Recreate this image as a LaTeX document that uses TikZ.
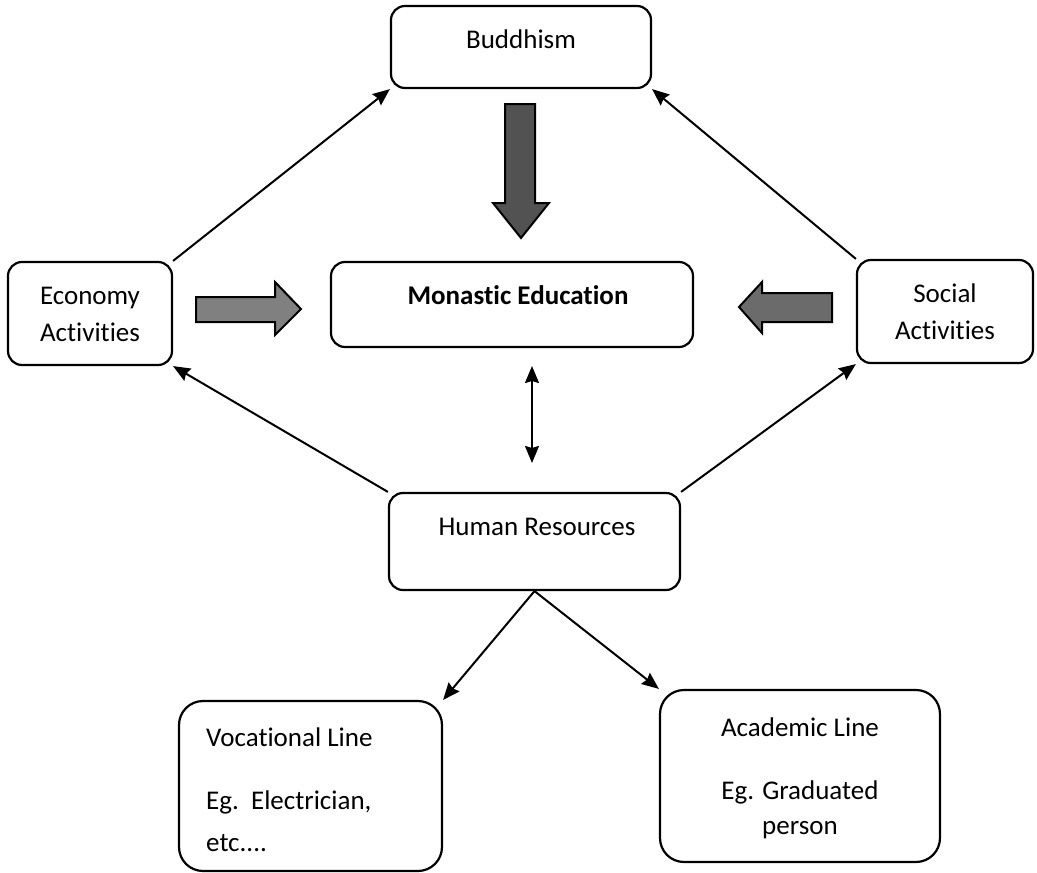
\documentclass[tikz,border=0pt]{standalone}
\usepackage{fontspec}
\setmainfont{Carlito}[Ligatures=NoCommon]
\usetikzlibrary{arrows.meta,fit}
\begin{document}
\begin{tikzpicture}[x=1pt,y=-1pt,
  box/.style={draw, line width=2.2pt, rounded corners=#1, inner sep=0pt},
  box/.default=14pt,
  txt/.style={inner sep=0pt, font=\fontsize{27}{37}\selectfont, align=center},
  tip/.tip={Stealth[length=17pt,width=14pt,inset=2pt]},
  arr/.style={line width=2pt, -tip},
  fat/.style={draw, line width=2pt, line join=miter}]
\useasboundingbox (0,0) rectangle (1037,873);
% boxes
\node[box, fit={(391,6) (651,88)}] (bud) {};
\node[box, fit={(8,262) (172,365)}] (eco) {};
\node[box, fit={(331,262) (693,347)}] (mon) {};
\node[box, fit={(857,260) (1033,363)}] (soc) {};
\node[box, fit={(389,493) (680,590)}] (hr) {};
\node[box=24pt, fit={(179,701) (442,871)}] (voc) {};
\node[box=24pt, fit={(660,690) (940,862)}] (aca) {};
% texts
\node[txt] (tbud) at (521,39) {Buddhism};
\node[txt] (teco) at (90,314) {Economy\\Activities};
\node[txt, font=\fontsize{27}{37}\selectfont\bfseries] (tmon) at (518,295) {Monastic Education};
\node[txt] (tsoc) at (945,312) {Social\\Activities};
\node[txt] (thr) at (537,527) {Human Resources};
\node[txt, anchor=west] (tv1) at (206,737) {Vocational Line};
\node[txt, anchor=west] (tv2) at (206,802) {Eg.\ \ Electrician,};
\node[txt, anchor=west] (tv3) at (206,843) {etc....};
\node[txt] (ta1) at (800,727) {Academic Line};
\node[txt] (ta2) at (800,792) {Eg. Graduated};
\node[txt] (ta3) at (800,830) {person};
% thin arrows
\draw[arr] (eco.north east) -- (bud.south west);
\draw[arr] (soc.north west) -- (bud.south east);
\draw[arr] (hr.north west) -- (eco.south east);
\draw[arr] (hr.north east) -- (soc.south west);
\coordinate (d1) at (532,366);
\coordinate (d2) at (532,463);
\draw[arr, tip-tip] (d1) -- (d2);
\draw[arr] (hr.south) -- (voc.north east);
\draw[arr] (hr.south) -- (aca.north west);
% fat arrows
\draw[fat, fill=black!68] (505,104) -- (535,104) -- (535,203) -- (549,203) -- (521,238) -- (493,203) -- (505,203) -- cycle;
\draw[fat, fill=black!50] (196,297) -- (275,297) -- (275,282) -- (301,309) -- (275,335) -- (275,322) -- (196,322) -- cycle;
\draw[fat, fill=black!58] (832,293) -- (762,293) -- (762,282) -- (739,307) -- (762,333) -- (762,322) -- (832,322) -- cycle;
\end{tikzpicture}
\end{document}
